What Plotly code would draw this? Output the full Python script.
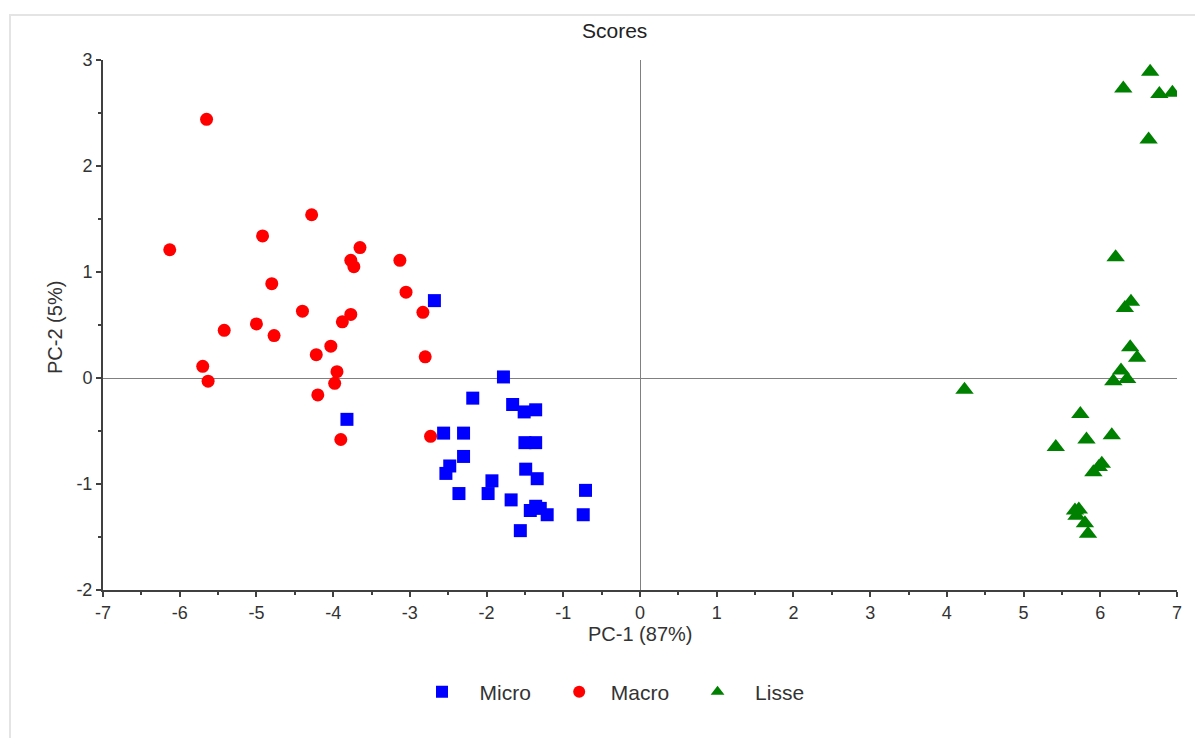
import plotly.graph_objects as go

# Micro (blue squares)
micro_x = [-2.68, -3.82, -1.78, -2.18, -1.66, -1.51, -1.36, -2.56, -2.30, -1.50, -1.36,
           -2.30, -2.48, -2.53, -1.49, -1.34, -1.93, -1.98, -2.36, -0.71, -1.68, -1.43,
           -1.30, -1.36, -1.21, -0.74, -1.56]
micro_y = [0.73, -0.39, 0.01, -0.19, -0.25, -0.32, -0.30, -0.52, -0.52, -0.61, -0.61,
           -0.74, -0.83, -0.90, -0.86, -0.95, -0.97, -1.09, -1.09, -1.06, -1.15, -1.25,
           -1.23, -1.21, -1.29, -1.29, -1.44]

# Macro (red circles)
macro_x = [-5.65, -6.13, -4.28, -4.92, -3.65, -3.77, -3.73, -3.13, -4.80, -3.05, -4.40,
           -2.83, -3.77, -3.88, -5.00, -5.42, -4.77, -4.03, -4.22, -2.80, -5.70, -3.95,
           -5.63, -3.98, -4.20, -3.90, -2.73]
macro_y = [2.44, 1.21, 1.54, 1.34, 1.23, 1.11, 1.05, 1.11, 0.89, 0.81, 0.63,
           0.62, 0.60, 0.53, 0.51, 0.45, 0.40, 0.30, 0.22, 0.20, 0.11, 0.06,
           -0.03, -0.05, -0.16, -0.58, -0.55]

# Lisse (green triangles)
lisse_x = [6.65, 6.30, 6.77, 6.94, 6.63, 6.20, 6.40, 6.32, 6.39, 6.48, 6.27, 6.17, 6.35,
           4.23, 5.74, 6.15, 5.82, 5.42, 6.02, 5.98, 5.91, 5.67, 5.72, 5.69, 5.80, 5.84]
lisse_y = [2.89, 2.73, 2.68, 2.69, 2.25, 1.14, 0.72, 0.66, 0.29, 0.19, 0.07, -0.03, -0.01,
           -0.11, -0.34, -0.54, -0.58, -0.65, -0.81, -0.84, -0.89, -1.25, -1.24, -1.30, -1.37, -1.47]

x_ticks = [-7, -6, -5, -4, -3, -2, -1, 0, 1, 2, 3, 4, 5, 6, 7]
y_ticks = [-2, -1, 0, 1, 2, 3]

FONT = "Liberation Sans, Arial, sans-serif"
NB = "\u00a0"

# page has an 8px body margin; plot area in page px: x 103..1177, y 60..590
W, H = 1195, 730
L, T = 95, 52
PW, PH = 1074, 530


def px(xp):  # page x -> paper x
    return (xp - 103) / PW


def py(yp):  # page y -> paper y
    return (590 - yp) / PH


fig = go.Figure()
fig.add_trace(go.Scatter(x=micro_x, y=micro_y, mode="markers", name=NB * 3 + "Micro" + NB * 4,
                         marker=dict(symbol="square", size=13, color="#0000FF", line=dict(width=0))))
fig.add_trace(go.Scatter(x=macro_x, y=macro_y, mode="markers", name=NB * 2 + "Macro" + NB * 4,
                         marker=dict(symbol="circle", size=13, color="#FF0000", line=dict(width=0))))
fig.add_trace(go.Scatter(x=lisse_x, y=lisse_y, mode="markers", name=NB * 3 + "Lisse",
                         marker=dict(symbol="triangle-up", size=16, color="#008000", line=dict(width=0))))

axis_common = dict(
    showgrid=False,
    showline=True, linecolor="#404040", linewidth=2,
    ticks="outside", ticklen=5, tickwidth=2, tickcolor="#404040",
    tickfont=dict(family=FONT, size=18, color="#333333"),
    zeroline=True, zerolinecolor="#808080", zerolinewidth=1,
    minor=dict(ticks="outside", ticklen=3, tickwidth=2, tickcolor="#404040", dtick=0.5),
    mirror=False,
)

fig.update_xaxes(range=[-7, 7], tickvals=x_ticks, ticktext=[str(v) for v in x_ticks], **axis_common)
fig.update_yaxes(range=[-2, 3], tickvals=y_ticks, ticktext=[str(v) for v in y_ticks], **axis_common)

fig.update_layout(
    width=W, height=H,
    margin=dict(l=L, r=W - L - PW, t=T, b=H - T - PH),
    paper_bgcolor="white", plot_bgcolor="white",
    font=dict(family=FONT, size=18, color="#333333"),
    showlegend=True,
    legend=dict(orientation="h", x=px(616), xanchor="center", y=py(692), yanchor="middle",
                font=dict(family=FONT, size=21, color="#333333"), itemsizing="constant"),
    annotations=[
        dict(text="Scores", xref="paper", yref="paper", x=px(614), y=py(30),
             xanchor="center", yanchor="middle", showarrow=False,
             font=dict(family=FONT, size=21, color="#222222")),
        dict(text="PC-1 (87%)", xref="paper", yref="paper", x=px(640), y=py(634),
             xanchor="center", yanchor="middle", showarrow=False,
             font=dict(family=FONT, size=20, color="#333333")),
        dict(text="PC-2 (5%)", xref="paper", yref="paper", x=px(55), y=py(328),
             xanchor="center", yanchor="middle", showarrow=False, textangle=-90,
             font=dict(family=FONT, size=20, color="#333333")),
    ],
    shapes=[
        dict(type="rect", xref="paper", yref="paper",
             x0=px(10), x1=px(1240), y0=py(760), y1=py(15),
             line=dict(color="#E4E4E4", width=2), fillcolor="rgba(0,0,0,0)", layer="below"),
    ],
)

fig.write_html("out.html")
